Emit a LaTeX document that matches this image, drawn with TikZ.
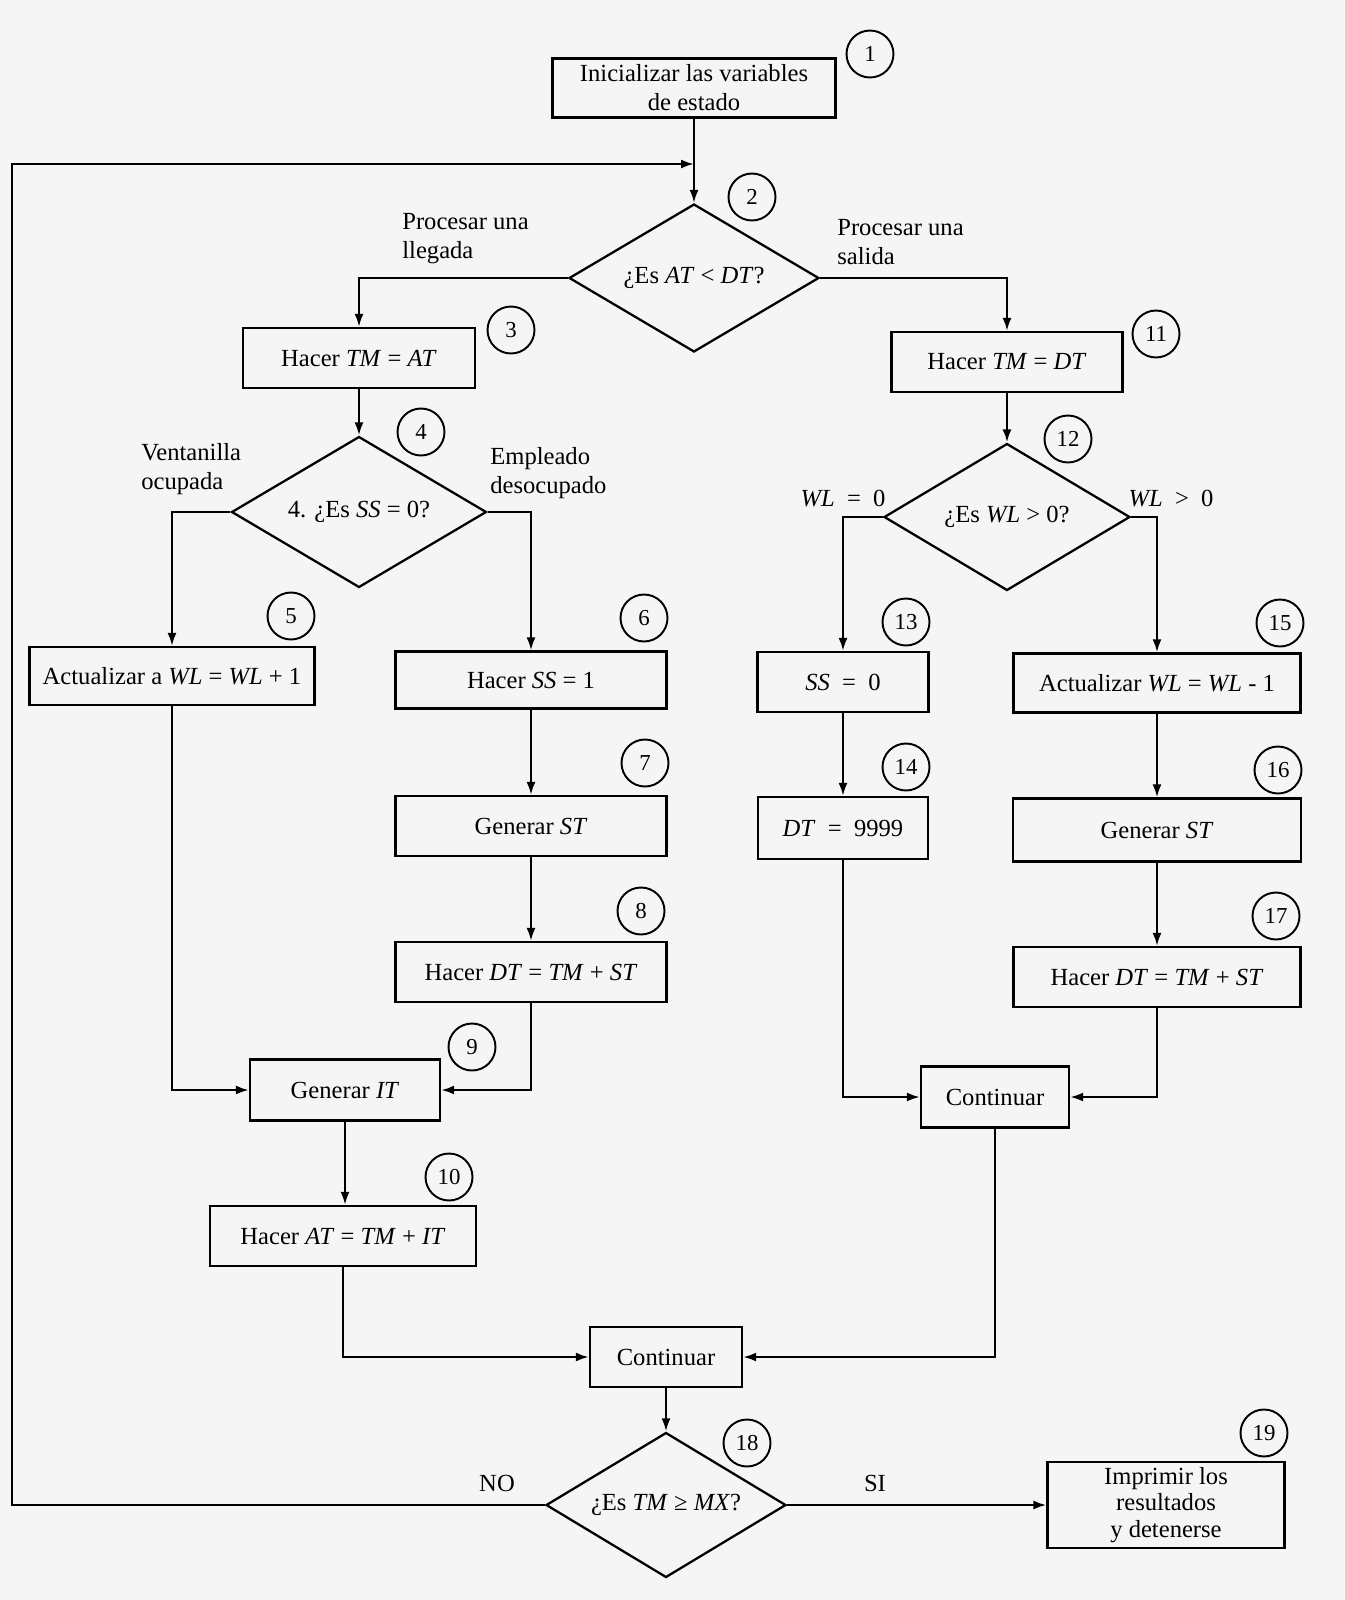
\documentclass[tikz,border=0pt]{standalone}
\usepackage{fontspec}
\setmainfont{Liberation Serif}
\usetikzlibrary{arrows.meta,positioning,shapes.geometric}
\tikzset{
  box/.style={draw=black, line width=1.3pt, align=center, inner sep=1mm, font=\fontsize{14}{16.5}\selectfont},
  decision/.style={box, diamond, aspect=1.7, inner sep=0pt},
  numcirc/.style={draw=black, circle, line width=1.1pt, minimum size=9.4mm, inner sep=0pt, font=\fontsize{13}{15}\selectfont},
  tag/.style={align=left, inner sep=0pt, font=\fontsize{14}{16.5}\selectfont},
  arrow/.style={-{Latex[length=2.6mm,width=1.8mm]}, line width=1.3pt, draw=black}
}

\begin{document}
\begin{tikzpicture}[x=0.02cm, y=-0.02cm]
  \fill[black!4] (0,0) rectangle (1345,1600);
  \useasboundingbox (0,0) rectangle (1345,1600);

  % main line and arrival branch
  \node[box, minimum width=5.66cm, minimum height=1.18cm] (init) at (694,88) {Inicializar las variables\\de estado};
  \node[decision, minimum width=5cm, minimum height=2.96cm] (testAD) at (694,278) {¿Es \textit{AT} < \textit{DT}?};
  \node[box, minimum width=4.64cm, minimum height=1.2cm] (setTMa) at (359,358) {Hacer \textit{TM} = \textit{AT}};
  \node[decision, minimum width=5.1cm, minimum height=3.02cm] (testSS) at (359,512) {4. ¿Es \textit{SS} = 0?};
  \node[box, minimum width=5.7cm, minimum height=1.16cm] (incWL) at (172,676) {Actualizar a \textit{WL} = \textit{WL} + 1};
  \node[box, minimum width=5.42cm, minimum height=1.14cm] (setSS) at (531,680) {Hacer \textit{SS} = 1};
  \node[box, minimum width=5.42cm, minimum height=1.2cm] (genST) at (531,826) {Generar \textit{ST}};
  \node[box, minimum width=5.42cm, minimum height=1.2cm] (setDT) at (531,972) {Hacer \textit{DT} = \textit{TM} + \textit{ST}};
  \node[box, minimum width=3.8cm, minimum height=1.22cm] (genIT) at (345,1090) {Generar \textit{IT}};
  \node[box, minimum width=5.32cm, minimum height=1.2cm] (setAT) at (343,1236) {Hacer \textit{AT} = \textit{TM} + \textit{IT}};
  \node[box, minimum width=3.04cm, minimum height=1.2cm] (join) at (666,1357) {Continuar};
  \node[decision, minimum width=4.8cm, minimum height=2.9cm] (testTM) at (666,1505) {¿Es \textit{TM} ≥ \textit{MX}?};
  \node[box, minimum width=4.74cm, minimum height=1.72cm, inner sep=0.5mm, font=\fontsize{14}{15}\selectfont] (report) at (1166,1505) {Imprimir los\\resultados\\y detenerse};

  % departure branch
  \node[box, minimum width=4.62cm, minimum height=1.2cm] (setTMd) at (1007,362) {Hacer \textit{TM} = \textit{DT}};
  \node[decision, minimum width=4.92cm, minimum height=2.94cm] (testWL) at (1007,517) {¿Es \textit{WL} > 0?};
  \node[box, minimum width=3.42cm, minimum height=1.2cm] (clrSS) at (843,682) {\textit{SS} \ = \ 0};
  \node[box, minimum width=3.4cm, minimum height=1.24cm] (setDTmax) at (843,828) {\textit{DT} \ = \ 9999};
  \node[box, minimum width=5.74cm, minimum height=1.18cm] (decWL) at (1157,683) {Actualizar \textit{WL} = \textit{WL} - 1};
  \node[box, minimum width=5.76cm, minimum height=1.26cm] (genSTd) at (1157,830) {Generar \textit{ST}};
  \node[box, minimum width=5.74cm, minimum height=1.2cm] (setDTd) at (1157,977) {Hacer \textit{DT} = \textit{TM} + \textit{ST}};
  \node[box, minimum width=2.96cm, minimum height=1.22cm] (joinD) at (995,1097) {Continuar};

  % step numbers
  \foreach \num/\pos in {1/{(870,54)}, 2/{(752,197)}, 3/{(511,330)}, 4/{(421,432)}, 5/{(291,616)},
      6/{(644,618)}, 7/{(645,763)}, 8/{(641,911)}, 9/{(472,1047)}, 10/{(449,1177)},
      11/{(1156,334)}, 12/{(1068,439)}, 13/{(906,622)}, 14/{(906,767)}, 15/{(1280,623)},
      16/{(1278,770)}, 17/{(1276,916)}, 18/{(747,1443)}, 19/{(1264,1433)}}
    \node[numcirc] (n\num) at \pos {\num};

  % branch labels
  \node[tag, anchor=west] (lblArr) at (402,239) {Procesar una\\llegada};
  \node[tag, anchor=west] (lblDep) at (837,242) {Procesar una\\salida};
  \node[tag, anchor=west] (lblBusy) at (141,469) {Ventanilla\\ocupada};
  \node[tag, anchor=west] (lblIdle) at (490,473) {Empleado\\desocupado};
  \node[tag] (lblEmpty) at (843,498) {\textit{WL} \ = \ 0};
  \node[tag] (lblQueue) at (1171,498) {\textit{WL} \ > \ 0};
  \node[tag] (lblNo) at (497,1483) {NO};
  \node[tag] (lblYes) at (875,1483) {SI};

  % connectors
  \coordinate (loopx) at (12,164);
  \coordinate (loopin) at (694,164);
  \draw[arrow] (init) -- (testAD);
  \draw[arrow] (testTM.west) -- (testTM.west -| loopx) |- (loopin);
  \draw[arrow] (testAD.west) -| (setTMa.north);
  \draw[arrow] (testAD.east) -| (setTMd.north);
  \draw[arrow] (setTMa) -- (testSS);
  \draw[arrow] (testSS.west) -| (incWL.north);
  \draw[arrow] (testSS.east) -| (setSS.north);
  \draw[arrow] (setSS) -- (genST);
  \draw[arrow] (genST) -- (setDT);
  \draw[arrow] (incWL.south) |- (genIT.west);
  \draw[arrow] (setDT.south) |- (genIT.east);
  \draw[arrow] (genIT.south) -- (genIT.south |- setAT.north);
  \draw[arrow] (setAT.south) |- (join.west);
  \draw[arrow] (joinD.south) |- (join.east);
  \draw[arrow] (join) -- (testTM);
  \draw[arrow] (testTM) -- (report);
  \draw[arrow] (setTMd) -- (testWL);
  \draw[arrow] (testWL.west) -| (clrSS.north);
  \draw[arrow] (testWL.east) -| (decWL.north);
  \draw[arrow] (clrSS) -- (setDTmax);
  \draw[arrow] (decWL) -- (genSTd);
  \draw[arrow] (genSTd) -- (setDTd);
  \draw[arrow] (setDTmax.south) |- (joinD.west);
  \draw[arrow] (setDTd.south) |- (joinD.east);
\end{tikzpicture}
\end{document}
